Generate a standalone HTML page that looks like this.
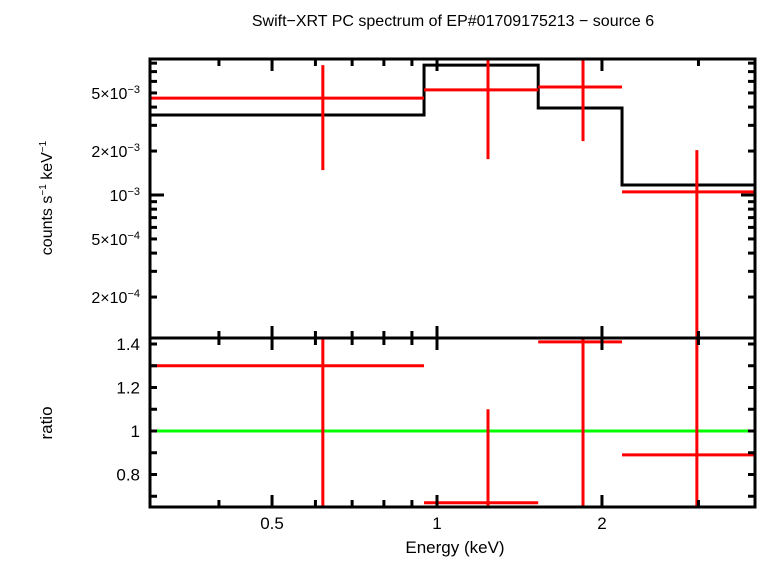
<!DOCTYPE html>
<html><head><meta charset="utf-8"><style>
body{margin:0;background:#fff;}
svg text{font-family:"Liberation Sans",sans-serif;fill:#000;}
</style></head><body>
<svg id="chart" width="758" height="558" xmlns="http://www.w3.org/2000/svg">
<text x="453" y="26" font-size="16" text-anchor="middle">Swift−XRT PC spectrum of EP#01709175213 − source 6</text>
<text x="455" y="553" font-size="17" text-anchor="middle">Energy (keV)</text>
<text transform="translate(52,198) rotate(-90)" font-size="16" text-anchor="middle">counts s<tspan font-size="10" dy="-6">−1</tspan><tspan dy="6"> keV</tspan><tspan font-size="10" dy="-6">−1</tspan></text>
<text transform="translate(52,423) rotate(-90)" font-size="17" text-anchor="middle">ratio</text>
<g id="marks"></g>
<g id="axes"></g>
</svg>
<script>
const binLo=[0.30,0.947,1.53,2.176];
const binHi=[0.947,1.53,2.176,3.81];
const binCen=[0.619,1.239,1.847,2.98];
const modelVals=[3.53e-3,7.76e-3,3.94e-3,1.17e-3];
const dataVals=[4.61e-3,5.25e-3,5.49e-3,1.05e-3];
const dataErrHi=[7.76e-3,8.6e-3,8.6e-3,2.03e-3];
const dataErrLo=[1.48e-3,1.76e-3,2.34e-3,1e-5];
const ratioVals=[1.30,0.67,1.41,0.89];
const ratioErrHi=[1.5,1.10,1.5,1.5];
const ratioErrLo=[0.6,0.6,0.6,0.6];
const xTicks=[0.5,1,2];
const xTickLabels=["0.5","1","2"];
const ratioTicks=[0.8,1,1.2,1.4];
const ratioTickLabels=["0.8","1","1.2","1.4"];

const L=150,R=755,T=59,M=338,B=507;
const xS=e=>437+548*Math.log10(e);
const yS=v=>195-146*(Math.log10(v)+3);
const rS=r=>431-217.5*(r-1);
const clamp=(v,a,b)=>Math.max(a,Math.min(b,v));
const NS="http://www.w3.org/2000/svg";
const marks=document.getElementById('marks'),axes=document.getElementById('axes');
function ln(g,x1,y1,x2,y2,c,w){const l=document.createElementNS(NS,'line');
l.setAttribute('x1',x1);l.setAttribute('y1',y1);l.setAttribute('x2',x2);l.setAttribute('y2',y2);
l.setAttribute('stroke',c);l.setAttribute('stroke-width',w);g.appendChild(l);return l;}
function tx(g,x,y,s,anchor,html){const t=document.createElementNS(NS,'text');
t.setAttribute('x',x);t.setAttribute('y',y);t.setAttribute('font-size',s);t.setAttribute('text-anchor',anchor);t.innerHTML=html;g.appendChild(t);return t;}

let d='';
for(let i=0;i<modelVals.length;i++){
 const y=yS(modelVals[i]);
 d+=(i?'L':'M')+xS(binLo[i])+','+y+' L'+Math.min(xS(binHi[i]),R)+','+y+' ';
}
const mp=document.createElementNS(NS,'path');
mp.setAttribute('d',d);mp.setAttribute('fill','none');mp.setAttribute('stroke','#000');mp.setAttribute('stroke-width','3');


marks.appendChild(mp);

for(let i=0;i<dataVals.length;i++){
 const h=ln(marks,xS(binLo[i]),yS(dataVals[i]),Math.min(xS(binHi[i]),R),yS(dataVals[i]),'#f00',3);
 
 
 const v=ln(marks,xS(binCen[i]),clamp(yS(dataErrHi[i]),T,M),xS(binCen[i]),clamp(yS(dataErrLo[i]),T,M),'#f00',3);
 
 
}
const g1=ln(marks,L,rS(1),R,rS(1),'#0f0',3);


for(let i=0;i<ratioVals.length;i++){
 const h=ln(marks,xS(binLo[i]),rS(ratioVals[i]),Math.min(xS(binHi[i]),R),rS(ratioVals[i]),'#f00',3);
 
 
 const v=ln(marks,xS(binCen[i]),clamp(rS(ratioErrHi[i]),M,B),xS(binCen[i]),clamp(rS(ratioErrLo[i]),M,B),'#f00',3);
 
 
}

[[T,M],[M,B]].forEach(([a,b],k)=>{
 const r=document.createElementNS(NS,'rect');
 r.setAttribute('x',L);r.setAttribute('y',a);r.setAttribute('width',R-L);r.setAttribute('height',b-a);
 r.setAttribute('fill','none');r.setAttribute('stroke','#000');r.setAttribute('stroke-width','3');
 
 
 axes.appendChild(r);
});
const minorX=[0.4,0.5,0.6,0.7,0.8,0.9,1,2,3];
minorX.forEach(e=>{const x=xS(e);const big=xTicks.includes(e)?12:7;
 [[T,T+big],[M-big,M+big],[B-big,B]].forEach(([a,b])=>ln(axes,x,a,x,b,'#000',3));});
xTicks.forEach((e,i)=>{const t=tx(axes,xS(e),529,17,'middle',xTickLabels[i]);
 
 });
for(let dec=-4;dec<=-3;dec++)for(let m=1;m<=9;m++){const v=m*Math.pow(10,dec);const y=yS(v);
 if(y<T||y>M)continue;const big=m===1?14:7;ln(axes,L,y,L+big,y,'#000',3);ln(axes,R-big,y,R,y,'#000',3);}
const yLab=[[5e-3,'5×10<tspan font-size="11" dy="-6">−3</tspan>'],[2e-3,'2×10<tspan font-size="11" dy="-6">−3</tspan>'],[1e-3,'10<tspan font-size="11" dy="-6">−3</tspan>'],[5e-4,'5×10<tspan font-size="11" dy="-6">−4</tspan>'],[2e-4,'2×10<tspan font-size="11" dy="-6">−4</tspan>']];
yLab.forEach(([v,h])=>{const t=tx(axes,140,yS(v)+6,16,'end',h);
 
 });
for(let r=0.7;r<=1.41;r+=0.1){const y=rS(r);
 ln(axes,L,y,L+7,y,'#000',3);ln(axes,R-7,y,R,y,'#000',3);}
ratioTicks.forEach((r,i)=>{const t=tx(axes,140,rS(r)+6,17,'end',ratioTickLabels[i]);
 
 });
</script>
</body></html>
